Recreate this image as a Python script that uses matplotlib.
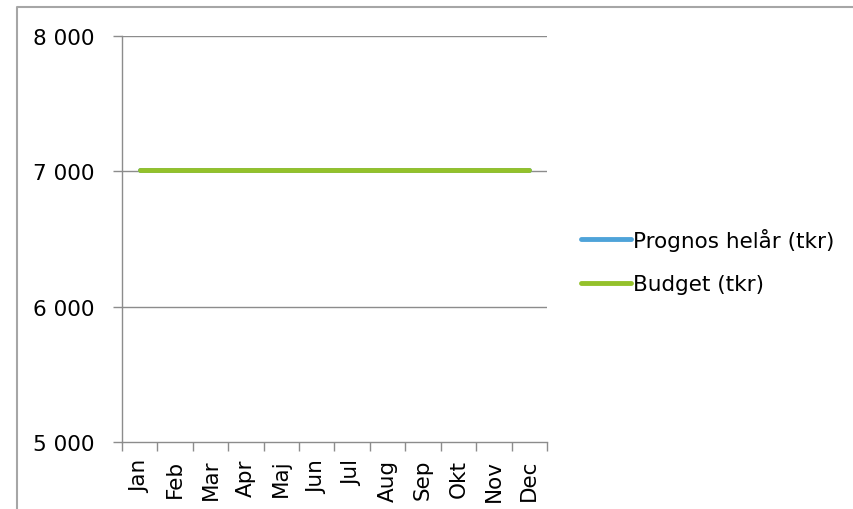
import matplotlib.pyplot as plt
import numpy as np

months = ["Jan", "Feb", "Mar", "Apr", "Maj", "Jun", "Jul", "Aug", "Sep", "Okt", "Nov", "Dec"]
prognos = [7008, 7008, 7008, 7008, 7008, 7008, 7008, 7008, 7008, 7008, 7008, 7008]
budget = [7012, 7012, 7012, 7012, 7012, 7012, 7012, 7012, 7012, 7012, 7012, 7012]
yticks = [5000, 6000, 7000, 8000]

plt.rcParams['font.family'] = ['DejaVu Sans']

fig = plt.figure(figsize=(8.54, 5.10), dpi=100)
ax = fig.add_axes([122/854, 1-443/510, 425/854, 406/510])

x = np.arange(len(months))
ax.plot(x, prognos, color='#4EA3D9', lw=3.5, solid_capstyle='round', label='Prognos helår (tkr)')
ax.plot(x, budget, color='#94C12B', lw=3.5, solid_capstyle='round', label='Budget (tkr)')

ax.set_xlim(-0.5, len(months) - 0.5)
ax.set_ylim(5000, 8000)

grid_c = '#8c8c8c'
ax.set_yticks(yticks)
ax.set_yticklabels([f"{v:,}".replace(",", " ") for v in yticks], fontsize=15.5)
for v in yticks[1:]:
    ax.axhline(v, color=grid_c, lw=1, zorder=0)

ax.set_xticks(np.arange(len(months) + 1) - 0.5)
ax.set_xticklabels([])
ax.set_xticks(x, minor=True)
ax.set_xticklabels(months, minor=True, rotation=90, fontsize=15.5)
ax.tick_params(axis='x', which='minor', length=0, pad=12)
ax.tick_params(axis='x', which='major', length=6.5, color=grid_c, width=1)
ax.tick_params(axis='y', length=6.5, color=grid_c, width=1, pad=13)

for s in ['top', 'right']:
    ax.spines[s].set_visible(False)
for s in ['left', 'bottom']:
    ax.spines[s].set_color(grid_c)
    ax.spines[s].set_linewidth(1)

fig.legend(loc='center left', bbox_to_anchor=(581/854, 1-262/510), frameon=False,
           fontsize=15.5, handlelength=2.3, handletextpad=0.1, labelspacing=1.1,
           borderpad=0, borderaxespad=0)

# outer chart frame (cropped at right and bottom)
fig.add_artist(plt.Line2D([17/854, 17/854, 1], [0, 1-8/510, 1-8/510],
                          transform=fig.transFigure, color='#a6a6a6', lw=1.5))

fig.savefig("out.png", dpi=100)
